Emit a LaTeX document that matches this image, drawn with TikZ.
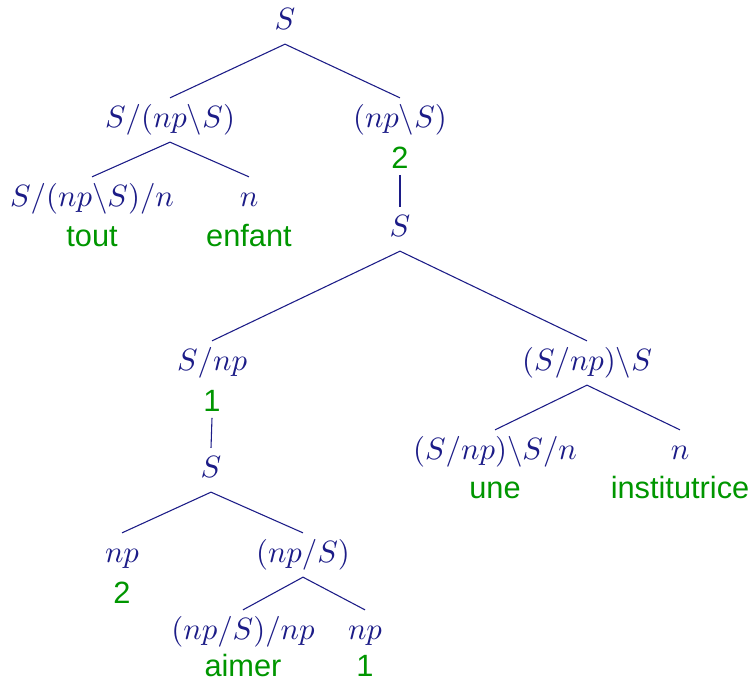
\documentclass[tikz,border=0pt]{standalone}
\usepackage{fontspec}
\newfontfamily\wordfont{Liberation Sans}
\usetikzlibrary{positioning}
\definecolor{TreeNavy}{RGB}{28,28,135}
\definecolor{TreeGreen}{RGB}{0,150,0}
\tikzset{
  tree/cat/.style={
    text=TreeNavy,
    inner sep=2pt,
    text height=7.5pt,
    text depth=2.5pt,
    font=\normalsize
  },
  tree/word/.style={
    text=TreeGreen,
    inner sep=2pt,
    text height=7.2pt,
    text depth=0pt,
    font=\wordfont\normalsize
  },
  tree/edge/.style={draw=TreeNavy, line width=0.35pt}
}
\newcommand{\bsl}{\backslash}

\begin{document}
\begin{tikzpicture}[x=0.325pt,y=-0.325pt]
  \useasboundingbox (0,0) rectangle (756,679);
  % upper part
  \node[tree/cat] (top) at (285,22) {$S$};
  \node[tree/cat] (subj) at (170,120) {$S/(np\bsl S)$};
  \node[tree/cat] (vp) at (400,120) {$(np\bsl S)$};
  \node[tree/word] (vpidx) at (400,157) {2};
  \node[tree/cat] (det) at (92,199) {$S/(np\bsl S)/n$};
  \node[tree/word] (tout) at (92,235) {tout};
  \node[tree/cat] (noun) at (249,199) {$n$};
  \node[tree/word] (enfant) at (249,235) {enfant};
  \draw[tree/edge] (top.south) -- (subj.north);
  \draw[tree/edge] (top.south) -- (vp.north);
  \draw[tree/edge] (subj.south) -- (det.north);
  \draw[tree/edge] (subj.south) -- (noun.north);
  % middle part
  \node[tree/cat] (mid) at (400,229) {$S$};
  \node[tree/cat] (frag) at (212,363) {$S/np$};
  \node[tree/word] (fragidx) at (212,400) {1};
  \node[tree/cat] (obj) at (587,363) {$(S/np)\bsl S$};
  \node[tree/cat] (une) at (495,452) {$(S/np)\bsl S/n$};
  \node[tree/word] (uneword) at (495,487) {une};
  \node[tree/cat] (inst) at (680,452) {$n$};
  \node[tree/word] (instword) at (680,487) {institutrice};
  \draw[tree/edge] (vpidx.south) -- (mid.north);
  \draw[tree/edge] (mid.south) -- (frag.north);
  \draw[tree/edge] (mid.south) -- (obj.north);
  \draw[tree/edge] (obj.south) -- (une.north);
  \draw[tree/edge] (obj.south) -- (inst.north);
  % lower part
  \node[tree/cat] (low) at (211,470) {$S$};
  \node[tree/cat] (hyp) at (122,555) {$np$};
  \node[tree/word] (hypidx) at (122,592) {2};
  \node[tree/cat] (verb) at (303,555) {$(np/S)$};
  \node[tree/cat] (aimer) at (243,632) {$(np/S)/np$};
  \node[tree/word] (aimerword) at (243,665) {aimer};
  \node[tree/cat] (gap) at (365,632) {$np$};
  \node[tree/word] (gapidx) at (365,665) {1};
  \draw[tree/edge] (fragidx.south) -- (low.north);
  \draw[tree/edge] (low.south) -- (hyp.north);
  \draw[tree/edge] (low.south) -- (verb.north);
  \draw[tree/edge] (verb.south) -- (aimer.north);
  \draw[tree/edge] (verb.south) -- (gap.north);
\end{tikzpicture}
\end{document}
